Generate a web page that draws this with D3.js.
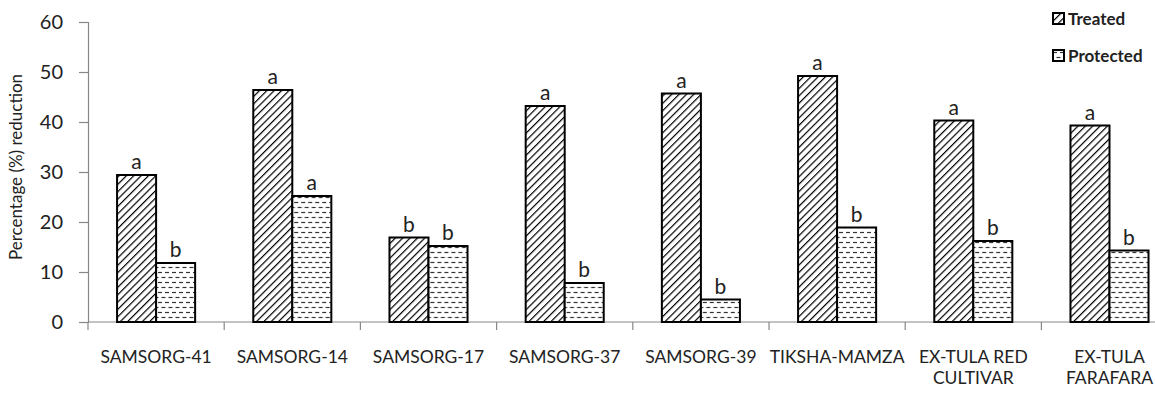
<!DOCTYPE html>
<html>
<head>
<meta charset="utf-8">
<script src="https://cdn.jsdelivr.net/npm/d3@7"></script>
<style>
  html, body { margin: 0; padding: 0; background: #fff; }
  svg { display: block; }
  text { font-family: Lato, "Liberation Sans", Arial, sans-serif; fill: #222; }
</style>
</head>
<body>
<svg id="chart" width="1155" height="394"></svg>
<script>
// Cultivars (x-axis categories); "\n" splits a label onto two lines
const categories = [
  "SAMSORG-41", "SAMSORG-14", "SAMSORG-17", "SAMSORG-37",
  "SAMSORG-39", "TIKSHA-MAMZA", "EX-TULA RED\nCULTIVAR", "EX-TULA\nFARAFARA"
];
const seriesNames = ["Treated", "Protected"];
const treated   = [29.4, 46.4, 16.9, 43.2, 45.7, 49.2, 40.3, 39.3];
const protectedVals = [11.8, 25.2, 15.2, 7.8, 4.5, 18.9, 16.2, 14.3];
const treatedLetters   = ["a", "a", "b", "a", "a", "a", "a", "a"];
const protectedLetters = ["b", "a", "b", "b", "b", "b", "b", "b"];
const yTicks = [0, 10, 20, 30, 40, 50, 60];

const svg = d3.select("#chart");
const x0 = 88, bandW = 136.2;

const x = d3.scaleBand()
  .domain(categories)
  .range([x0, x0 + bandW * categories.length])
  .paddingInner(0).paddingOuter(0);
const inner = d3.scaleBand().domain(seriesNames).range([0, x.bandwidth()]).paddingOuter(0.745).paddingInner(0);
const y = d3.scaleLinear().domain([0, 60]).range([322, 22]);

// Fill patterns
const defs = svg.append("defs");
const diag = defs.append("pattern")
  .attr("id", "diag").attr("patternUnits", "userSpaceOnUse")
  .attr("width", 5.2).attr("height", 5.2)
  .attr("patternTransform", "rotate(45)");
diag.append("rect").attr("width", 5.2).attr("height", 5.2).attr("fill", "#fff");
diag.append("line").attr("x1", 0).attr("y1", 0).attr("x2", 0).attr("y2", 5.2)
  .attr("stroke", "#000").attr("stroke-width", 2.4);

const dash = defs.append("pattern")
  .attr("id", "dash").attr("patternUnits", "userSpaceOnUse")
  .attr("width", 7).attr("height", 10);
dash.append("rect").attr("width", 7).attr("height", 10).attr("fill", "#fff");
dash.append("line").attr("x1", 0).attr("y1", 2.5).attr("x2", 4).attr("y2", 2.5)
  .attr("stroke", "#333").attr("stroke-width", 1.2);
dash.append("line").attr("x1", 3.5).attr("y1", 7.5).attr("x2", 7.5).attr("y2", 7.5)
  .attr("stroke", "#333").attr("stroke-width", 1.2);
dash.append("line").attr("x1", -3.5).attr("y1", 7.5).attr("x2", 0.5).attr("y2", 7.5)
  .attr("stroke", "#333").attr("stroke-width", 1.2);

const fills = { Treated: "url(#diag)", Protected: "url(#dash)" };

// Y axis
const yAxis = svg.append("g")
  .attr("transform", `translate(${x0},0)`)
  .call(d3.axisLeft(y).tickValues(yTicks).tickSize(9).tickPadding(16));
yAxis.select(".domain").attr("stroke", "#888").attr("stroke-width", 1.2);
yAxis.selectAll(".tick line").attr("stroke", "#888").attr("stroke-width", 1.2);
yAxis.selectAll(".tick text")
  .style("font-family", 'Lato, "Liberation Sans", Arial, sans-serif')
  .style("font-size", "20px").attr("fill", "#222");

// X axis line with ticks at band boundaries
const xg = svg.append("g");
xg.append("line")
  .attr("x1", x0).attr("x2", 1155)
  .attr("y1", y(0)).attr("y2", y(0))
  .attr("stroke", "#888").attr("stroke-width", 1.2);
xg.selectAll(".xt")
  .data(categories)
  .join("line")
  .attr("x1", d => x(d)).attr("x2", d => x(d))
  .attr("y1", y(0)).attr("y2", y(0) + 8)
  .attr("stroke", "#888").attr("stroke-width", 1.2);

// Category labels
const lab = xg.selectAll(".xl")
  .data(categories)
  .join("text")
  .attr("text-anchor", "middle")
  .attr("font-size", "17.5px")
  .attr("transform", d => `translate(${x(d) + x.bandwidth() / 2},363)`);
lab.selectAll("tspan")
  .data(d => d.split("\n"))
  .join("tspan")
  .attr("x", 0)
  .attr("dy", (d, i) => i === 0 ? 0 : 21)
  .text(d => d);

// Bars
const rows = categories.map((c, i) => ({
  cat: c,
  vals: [
    { s: "Treated", v: treated[i], l: treatedLetters[i] },
    { s: "Protected", v: protectedVals[i], l: protectedLetters[i] }
  ]
}));

const groups = svg.append("g").selectAll("g")
  .data(rows)
  .join("g")
  .attr("transform", d => `translate(${x(d.cat)},0)`);

groups.selectAll("rect")
  .data(d => d.vals)
  .join("rect")
  .attr("x", d => inner(d.s))
  .attr("width", inner.bandwidth())
  .attr("y", d => y(d.v))
  .attr("height", d => y(0) - y(d.v))
  .attr("fill", d => fills[d.s])
  .attr("stroke", "#000")
  .attr("stroke-width", 2);

groups.selectAll("text")
  .data(d => d.vals)
  .join("text")
  .attr("x", d => inner(d.s) + inner.bandwidth() / 2)
  .attr("y", d => y(d.v) - 6)
  .attr("text-anchor", "middle")
  .attr("font-size", "21px")
  .text(d => d.l);

// Y-axis title
svg.append("text")
  .attr("transform", "translate(22,167) rotate(-90)")
  .attr("text-anchor", "middle")
  .attr("font-size", "17px")
  .text("Percentage (%) reduction");

// Legend
const legend = svg.append("g").selectAll("g")
  .data(seriesNames)
  .join("g")
  .attr("transform", (d, i) => `translate(1053,${13 + i * 37})`);
legend.append("rect")
  .attr("width", 11).attr("height", 11)
  .attr("fill", d => fills[d])
  .attr("stroke", "#000").attr("stroke-width", 2);
legend.append("text")
  .attr("x", 15).attr("y", 12)
  .attr("font-size", "17px")
  .attr("font-weight", "bold")
  .attr("fill", "#111")
  .text(d => d);
</script>
</body>
</html>
